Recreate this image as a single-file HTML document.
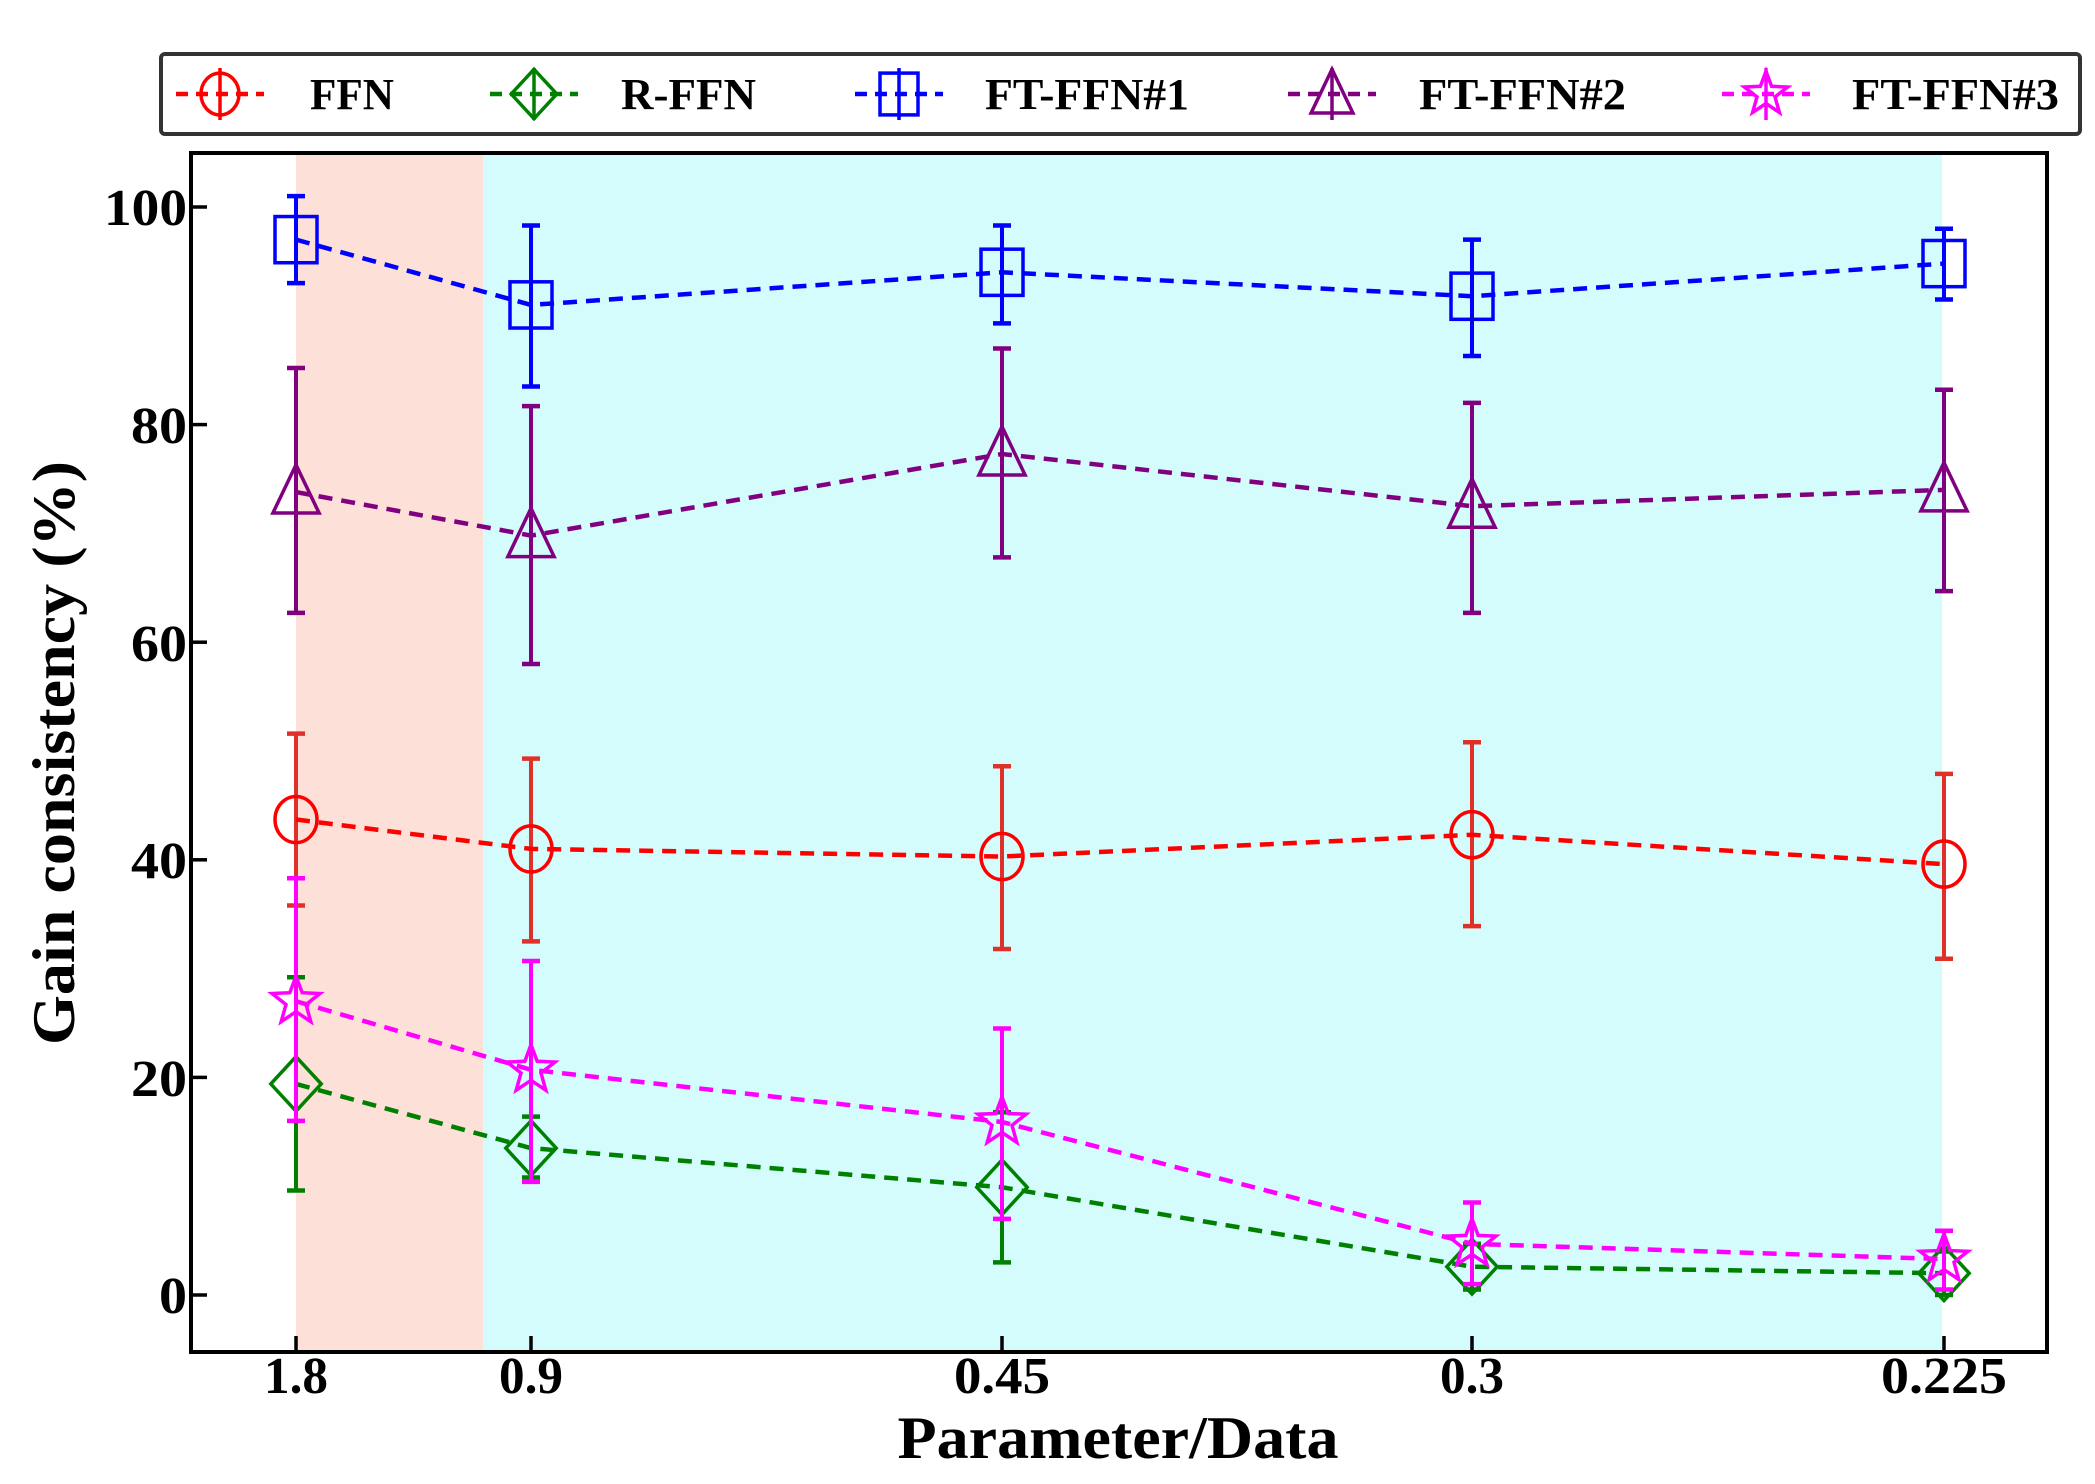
<!DOCTYPE html>
<html><head><meta charset="utf-8"><style>html,body{margin:0;padding:0;background:#fff}svg{display:block}text{font-family:"Liberation Serif",serif;font-weight:bold;fill:#000}</style></head>
<body>
<svg id="s" width="2095" height="1484" viewBox="0 0 2095 1484" xmlns="http://www.w3.org/2000/svg">
<rect x="296" y="153" width="187" height="1199" fill="#fde0d8"/>
<rect x="483" y="153" width="1459" height="1199" fill="#d4fcfc"/>
<g id="plot"></g>
<rect x="191" y="153" width="1856" height="1199" fill="none" stroke="#000" stroke-width="4"/>
<g id="ticks" stroke="#000" stroke-width="3.5"></g>
<g font-size="52">
<text x="187" y="225" text-anchor="end" textLength="83" lengthAdjust="spacingAndGlyphs">100</text>
<text x="187" y="443" text-anchor="end" textLength="56" lengthAdjust="spacingAndGlyphs">80</text>
<text x="187" y="661" text-anchor="end" textLength="56" lengthAdjust="spacingAndGlyphs">60</text>
<text x="187" y="878" text-anchor="end" textLength="56" lengthAdjust="spacingAndGlyphs">40</text>
<text x="187" y="1096" text-anchor="end" textLength="56" lengthAdjust="spacingAndGlyphs">20</text>
<text x="187" y="1313" text-anchor="end" textLength="28" lengthAdjust="spacingAndGlyphs">0</text>
<text x="296" y="1393" text-anchor="middle" textLength="64" lengthAdjust="spacingAndGlyphs">1.8</text>
<text x="531" y="1393" text-anchor="middle" textLength="64" lengthAdjust="spacingAndGlyphs">0.9</text>
<text x="1002" y="1393" text-anchor="middle" textLength="96" lengthAdjust="spacingAndGlyphs">0.45</text>
<text x="1472" y="1393" text-anchor="middle" textLength="64" lengthAdjust="spacingAndGlyphs">0.3</text>
<text x="1944" y="1393" text-anchor="middle" textLength="126" lengthAdjust="spacingAndGlyphs">0.225</text>
</g>
<text x="1118" y="1458" font-size="60" text-anchor="middle" textLength="441" lengthAdjust="spacingAndGlyphs">Parameter/Data</text>
<text transform="translate(74,753) rotate(-90)" font-size="60" text-anchor="middle" textLength="584" lengthAdjust="spacingAndGlyphs">Gain consistency (%)</text>
<rect x="161" y="54" width="1919" height="80" rx="4" fill="#fff" stroke="#333" stroke-width="4"/>
<g id="leg" font-size="44"></g>
</svg>
<script>
const Y=v=>1295-v*10.88;
const X=[296,531,1002,1472,1944];
const ns="http://www.w3.org/2000/svg";
function el(p,t,a){const e=document.createElementNS(ns,t);for(const k in a)e.setAttribute(k,a[k]);p.appendChild(e);return e;}
const tk=document.getElementById('ticks');
[0,20,40,60,80,100].forEach(v=>el(tk,'line',{x1:191,x2:207,y1:Y(v),y2:Y(v)}));
X.forEach(x=>el(tk,'line',{x1:x,x2:x,y1:1352,y2:1336}));
function marker(g,type,x,y,c,s){
 const a={fill:'none',stroke:c,'stroke-width':3.5};
 if(type=='o')el(g,'ellipse',Object.assign({cx:x,cy:y,rx:s*0.5,ry:s*0.55},a));
 if(type=='d')el(g,'polygon',Object.assign({points:`${x},${y-s*0.65} ${x+s*0.6},${y} ${x},${y+s*0.65} ${x-s*0.6},${y}`},a));
 if(type=='s')el(g,'rect',Object.assign({x:x-s*0.5,y:y-s*0.55,width:s,height:s*1.1},a));
 if(type=='t')el(g,'polygon',Object.assign({points:`${x},${y-s*0.65} ${x+s*0.55},${y+s*0.5} ${x-s*0.55},${y+s*0.5}`},a));
 if(type=='*'){let p=[];for(let i=0;i<10;i++){const r=i%2?s*0.25:s*0.6,an=-Math.PI/2+i*Math.PI/5;p.push((x+r*Math.cos(an)).toFixed(1)+','+(y+r*Math.sin(an)).toFixed(1));}el(g,'polygon',Object.assign({points:p.join(' ')},a));}
}
const S=[
 {c:'#ff0000',ec:'#e0302a',m:'o',v:[[43.7,35.8,51.6],[41,32.5,49.3],[40.3,31.8,48.6],[42.3,33.9,50.8],[39.6,30.9,47.9]],n:'FFN',lx:220,tx:310,tw:84},
 {c:'#008000',ec:'#008000',m:'d',v:[[19.4,9.6,29.2],[13.5,10.8,16.4],[9.9,3,16.8],[2.6,0.5,4.7],[2.0,0,4]],n:'R-FFN',lx:534,tx:621,tw:135},
 {c:'#0000ff',ec:'#0000ff',m:'s',v:[[97,93,101],[91,83.5,98.3],[94,89.3,98.3],[91.8,86.3,97],[94.8,91.5,98]],n:'FT-FFN#1',lx:899,tx:985,tw:204},
 {c:'#800080',ec:'#800080',m:'t',v:[[73.8,62.7,85.2],[69.8,58,81.7],[77.3,67.8,87],[72.5,62.7,82],[74,64.7,83.2]],n:'FT-FFN#2',lx:1332,tx:1419,tw:207},
 {c:'#ff00ff',ec:'#ff00ff',m:'*',v:[[27,16,38.3],[20.7,10.4,30.7],[15.9,7,24.5],[4.7,1.0,8.5],[3.3,0.5,5.9]],n:'FT-FFN#3',lx:1766,tx:1852,tw:207}
];
const P=document.getElementById('plot'),L=document.getElementById('leg');
S.forEach(s=>{
 s.v.forEach((d,i)=>{const x=X[i];el(P,'line',{x1:x,x2:x,y1:Y(d[1]),y2:Y(d[2]),stroke:s.ec,'stroke-width':4});
  [d[1],d[2]].forEach(v=>el(P,'line',{x1:x-9,x2:x+9,y1:Y(v),y2:Y(v),stroke:s.ec,'stroke-width':4.5}));});
 el(P,'polyline',{points:s.v.map((d,i)=>X[i]+','+Y(d[0])).join(' '),fill:'none',stroke:s.c,'stroke-width':4.5,'stroke-dasharray':'14,9'});
 s.v.forEach((d,i)=>marker(P,s.m,X[i],Y(d[0]),s.c,42));
 el(L,'line',{x1:s.lx-44,x2:s.lx+44,y1:94,y2:94,stroke:s.c,'stroke-width':4.5,'stroke-dasharray':'12,8'});
 el(L,'line',{x1:s.lx,x2:s.lx,y1:68,y2:120,stroke:s.c,'stroke-width':3.5});
 marker(L,s.m,s.lx,94,s.c,38);
 const t=el(L,'text',{x:s.tx,y:109,textLength:s.tw,lengthAdjust:'spacingAndGlyphs'});t.textContent=s.n;
});
</script>
</body></html>
